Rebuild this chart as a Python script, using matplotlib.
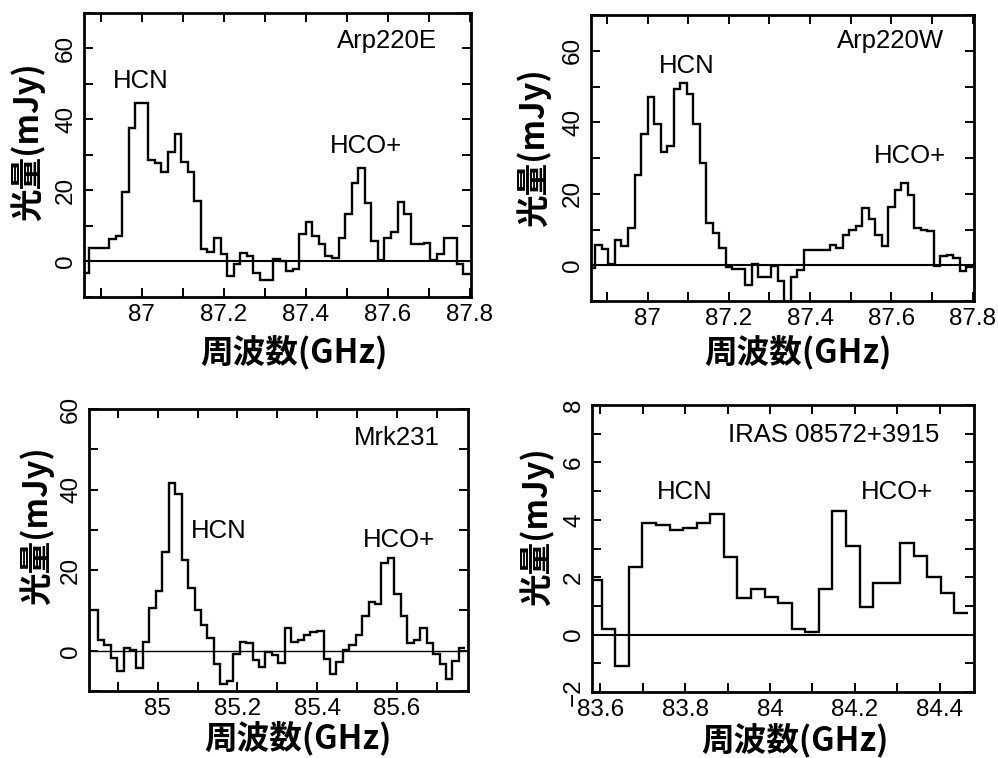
import numpy as np
import matplotlib
matplotlib.use('Agg')
import matplotlib.pyplot as plt
from matplotlib.ticker import MultipleLocator, FuncFormatter

# ---------------- data (channel centre frequency in GHz, flux in mJy) ----------------
freq_arp220 = [86.864, 86.880, 86.896, 86.912, 86.928, 86.944, 86.960, 86.976, 86.992, 87.008,
               87.024, 87.040, 87.056, 87.072, 87.088, 87.104, 87.120, 87.136, 87.152, 87.168,
               87.184, 87.200, 87.216, 87.232, 87.248, 87.264, 87.280, 87.296, 87.312, 87.328,
               87.344, 87.360, 87.376, 87.392, 87.408, 87.424, 87.440, 87.456, 87.472, 87.488,
               87.504, 87.520, 87.536, 87.552, 87.568, 87.584, 87.600, 87.616, 87.632, 87.648,
               87.664, 87.680, 87.696, 87.712, 87.728, 87.744, 87.760, 87.776, 87.792]
flux_arp220e = [-3.3, 3.7, 3.7, 3.7, 6.3, 7.2, 19.6, 37.7, 44.7, 44.7,
                28.6, 27.8, 25.2, 30.8, 36.0, 28.1, 25.2, 17.1, 3.5, 2.8,
                6.5, 2.2, -4.0, -0.7, 2.5, 1.6, -3.1, -5.2, -5.2, 0.7,
                0.2, -2.6, -2.2, 7.7, 11.2, 7.2, 4.9, 1.6, 1.1, 6.7,
                13.3, 22.2, 26.4, 16.6, 5.8, 0.5, 6.5, 8.3, 16.9, 13.3,
                4.9, 4.9, 5.3, 0.5, 2.1, 6.5, 6.5, -0.7, -3.6]
flux_arp220w = [-0.8, 5.8, 4.5, 0.3, 7.2, 5.4, 10.3, 25.3, 36.6, 47.0,
                39.4, 31.6, 33.3, 49.2, 50.9, 47.8, 39.4, 28.6, 11.7, 9.1,
                4.7, -0.5, -1.1, -1.1, -5.6, 0.3, -3.3, -3.3, -0.2, -4.5,
                -12.0, -3.3, -1.4, 4.2, 4.2, 4.2, 4.2, 5.8, 4.7, 8.4,
                10.0, 11.0, 15.9, 12.8, 8.4, 5.3, 16.4, 21.1, 23.1, 19.7,
                10.3, 9.8, 9.6, -0.2, 2.5, 2.9, 2.1, -1.5, -0.5]

freq_mrk231 = [84.842, 84.858, 84.874, 84.890, 84.907, 84.923, 84.939, 84.955, 84.971, 84.987,
               85.004, 85.020, 85.036, 85.052, 85.068, 85.084, 85.101, 85.117, 85.133, 85.149,
               85.165, 85.181, 85.198, 85.214, 85.230, 85.246, 85.262, 85.278, 85.294, 85.311,
               85.327, 85.343, 85.359, 85.375, 85.391, 85.408, 85.424, 85.440, 85.456, 85.472,
               85.488, 85.505, 85.521, 85.537, 85.553, 85.569, 85.585, 85.602, 85.618, 85.634,
               85.650, 85.666, 85.682, 85.699, 85.715, 85.731, 85.747, 85.763]
flux_mrk231 = [10.1, 2.7, 1.4, -1.7, -5.1, 0.6, 0.3, -4.4, 2.1, 10.7,
               14.7, 24.4, 41.7, 39.0, 22.6, 15.5, 10.1, 6.4, 3.2, -3.2,
               -8.3, -7.6, -0.7, 2.2, 1.8, -2.3, -4.0, -0.2, -1.1, -3.0,
               5.6, 2.1, 2.7, 3.9, 4.7, 4.9, -2.1, -5.7, -2.7, 0.3,
               1.4, 3.9, 8.5, 12.2, 11.6, 21.8, 23.0, 14.0, 8.5, 1.8,
               2.7, 5.6, 1.8, -0.7, -3.2, -6.9, -2.6, 0.6]

freq_iras = [83.587, 83.619, 83.651, 83.683, 83.715, 83.747, 83.779, 83.811, 83.843, 83.875,
             83.907, 83.939, 83.971, 84.003, 84.035, 84.067, 84.099, 84.131, 84.163, 84.195,
             84.227, 84.259, 84.291, 84.323, 84.355, 84.387, 84.419, 84.451]
flux_iras = [1.9, 0.2, -1.1, 2.35, 3.9, 3.82, 3.65, 3.73, 3.88, 4.2,
             2.7, 1.26, 1.6, 1.3, 1.1, 0.2, 0.1, 1.6, 4.3, 3.1,
             0.96, 1.8, 1.8, 3.2, 2.75, 2.0, 1.46, 0.76]

names = ['Arp220E', 'Arp220W', 'Mrk231', 'IRAS 08572+3915']
line_labels = ['HCN', 'HCO+']
xlabel_text = '周波数(GHz)'
ylabel_text = '光量(mJy)'

# ---------------- style ----------------
plt.rcParams['font.family'] = ['Liberation Sans', 'DejaVu Sans']
cjk = ['Noto Sans CJK JP', 'DejaVu Sans']

fig = plt.figure(figsize=(9.98, 7.58), dpi=100)


def edges_from_centers(c):
    c = np.asarray(c, dtype=float)
    mid = (c[:-1] + c[1:]) / 2
    return np.concatenate([[c[0] - (c[1] - c[0]) / 2], mid, [c[-1] + (c[-1] - c[-2]) / 2]])


def fmt(v, pos=None):
    v = round(float(v), 6) + 0.0
    if v == 0:
        v = 0.0
    s = f'{v:g}'
    return s.replace('-', '\u2212')


panels = [
    dict(rect=[84, 13, 471, 297], x=freq_arp220, y=flux_arp220e, xlim=(86.859, 87.803),
         ylim=(-10, 70), ymaj=20, ymin=10, name_pos=(87.599, 62.0),
         hcn=(86.998, 50.8), hco=(87.547, 32.5), zlw=1.5, xlab=(0.543, -55), ylab=(-56, 0.546)),
    dict(rect=[591, 15, 974, 301], x=freq_arp220, y=flux_arp220w, xlim=(86.861, 87.803),
         ylim=(-10, 70), ymaj=20, ymin=10, name_pos=(87.597, 62.6),
         hcn=(87.097, 55.8), hco=(87.646, 30.5), zlw=1.5, xlab=(0.54, -51), ylab=(-57, 0.535)),
    dict(rect=[89, 409, 468, 691], x=freq_mrk231, y=flux_mrk231, xlim=(84.828, 85.778),
         ylim=(-10, 60), ymaj=20, ymin=10, name_pos=(85.600, 52.8),
         hcn=(85.152, 29.8), hco=(85.606, 27.6), zlw=1.0, xlab=(0.551, -47), ylab=(-52, 0.585)),
    dict(rect=[592, 405, 974, 692], x=freq_iras, y=flux_iras, xlim=(83.580, 84.481),
         ylim=(-2, 8), ymaj=2, ymin=1, name_pos=(84.149, 6.96),
         hcn=(83.799, 4.96), hco=(84.299, 4.96), zlw=1.5, xlab=(0.531, -48), ylab=(-55, 0.575)),
]

W, H = 998, 758
for p, name in zip(panels, names):
    l, t, r, b = p['rect']
    ax = fig.add_axes([l / W, 1 - b / H, (r - l) / W, (b - t) / H])
    wpx, hpx = r - l, b - t

    edges = edges_from_centers(p['x'])
    ax.stairs(p['y'], edges, baseline=None, color='black', linewidth=1.7)
    ax.axhline(0, color='black', linewidth=p['zlw'])

    ax.set_xlim(*p['xlim'])
    ax.set_ylim(*p['ylim'])

    ax.xaxis.set_major_locator(MultipleLocator(0.2))
    ax.xaxis.set_minor_locator(MultipleLocator(0.1))
    ax.xaxis.set_major_formatter(FuncFormatter(fmt))
    lo, hi = p['ylim']
    start = np.ceil(lo / p['ymaj']) * p['ymaj']
    yt = np.arange(start, hi + 0.001, p['ymaj'])
    ax.set_yticks(yt)
    ax.set_yticklabels([fmt(v) for v in yt], rotation=90, va='center')
    ax.yaxis.set_minor_locator(MultipleLocator(p['ymin']))

    ax.tick_params(which='both', direction='in', length=6.5, width=1.4,
                   top=True, right=True, labelsize=17.5, pad=5)
    for sp in ax.spines.values():
        sp.set_linewidth(2.0)

    ax.text(*p['name_pos'], name, fontsize=18.5, ha='center', va='center')
    ax.text(*p['hcn'], line_labels[0], fontsize=18.5, ha='center', va='center')
    ax.text(*p['hco'], line_labels[1], fontsize=18.5, ha='center', va='center')

    ax.set_xlabel(xlabel_text, fontsize=23.5, family=cjk, fontweight='bold')
    ax.set_ylabel(ylabel_text, fontsize=23.5, family=cjk, fontweight='bold')
    ax.xaxis.set_label_coords(p['xlab'][0], p['xlab'][1] / hpx)
    ax.xaxis.label.set_va('center')
    ax.yaxis.set_label_coords(p['ylab'][0] / wpx, p['ylab'][1])
    ax.yaxis.label.set_va('center')

fig.savefig('out.png', dpi=100)
